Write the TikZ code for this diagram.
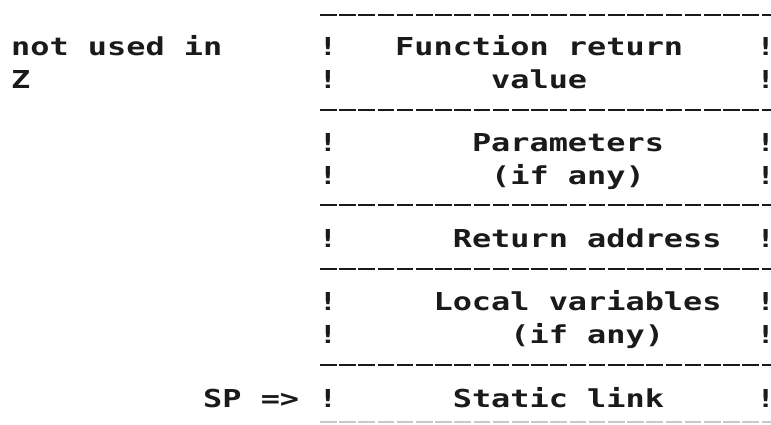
\documentclass[tikz,border=0pt]{standalone}
\usepackage{fontspec}
% wide monospaced face, in the manner of a dot-matrix printer
\newfontfamily\dotfont[FakeStretch=1.291]{DejaVu Sans Mono}
\definecolor{ink}{HTML}{1A1A1A}
\definecolor{faint}{HTML}{C8C8C8}
\begin{document}
\begin{tikzpicture}[x=1pt,y=-1pt,
  txt/.style={font=\dotfont\bfseries\fontsize{24.7}{24.7}\selectfont, text=ink,
              inner sep=0pt, anchor=base west},
  rule/.style={draw=ink, line width=2.4pt, dash pattern=on 16.5pt off 2.7pt},
  lastrule/.style={draw=faint, line width=2pt, dash pattern=on 16.5pt off 2.7pt}]
\useasboundingbox (0,0) rectangle (771,425);

% separator rows of the stack frame
\coordinate (s1a) at (320,15);  \coordinate (s1b) at (800,15);
\coordinate (s2a) at (320,110); \coordinate (s2b) at (800,110);
\coordinate (s3a) at (320,205); \coordinate (s3b) at (800,205);
\coordinate (s4a) at (320,269); \coordinate (s4b) at (800,269);
\coordinate (s5a) at (320,365); \coordinate (s5b) at (800,365);
\coordinate (s6a) at (320,422); \coordinate (s6b) at (800,422);
\draw[rule] (s1a) -- (s1b);
\draw[rule] (s2a) -- (s2b);
\draw[rule] (s3a) -- (s3b);
\draw[rule] (s4a) -- (s4b);
\draw[rule] (s5a) -- (s5b);
\draw[lastrule] (s6a) -- (s6b);

% side bars (the right-hand bar sits in a narrow box at the page edge)
\foreach \r/\y in {a/56,b/89,c/152,d/184,e/247,f/310,g/343,h/407}{
  \node[txt] (l\r) at (318.2,\y) {!};
  \node[txt] (r\r) at (761.5,\y) {\makebox[8pt]{!}};
}

% left annotations
\node[txt] (notused) at (11,56) {not used in};
\node[txt] (zee) at (11,89) {Z};
\node[txt] (sp) at (203,407) {SP =>};

% frame contents
\node[txt] (fr1) at (395,56) {Function return};
\node[txt] (fr2) at (491,89) {value};
\node[txt] (pa1) at (471.8,152) {Parameters};
\node[txt] (pa2) at (491,184) {(if any)};
\node[txt] (ra) at (452.6,247) {Return address};
\node[txt] (lv1) at (433.4,310) {Local variables};
\node[txt] (lv2) at (510.2,343) {(if any)};
\node[txt] (sl) at (452.6,407) {Static link};
\end{tikzpicture}
\end{document}
